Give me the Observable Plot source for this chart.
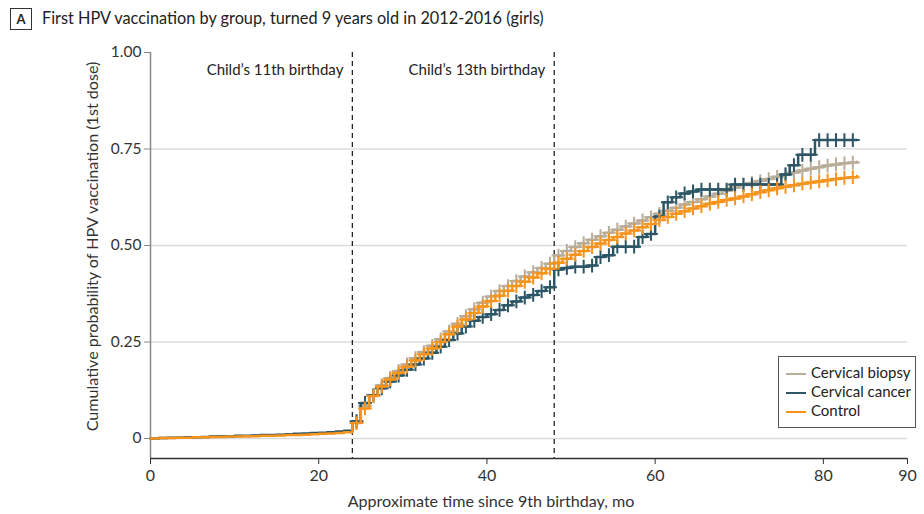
<!DOCTYPE html>
<html><head><meta charset="utf-8">
<script src="https://cdn.jsdelivr.net/npm/d3@7"></script>
<script src="https://cdn.jsdelivr.net/npm/@observablehq/plot@0.6"></script>
<style>
body{margin:0;background:#fff;width:924px;height:514px;overflow:hidden;position:relative;font-family:Lato,sans-serif;color:#222}
#title{height:36px;position:relative}
#title .box{position:absolute;left:10px;top:8px;width:20px;height:20px;border:1px solid #333;font-weight:bold;font-size:13px;text-align:center;line-height:20px}
#title .t{position:absolute;left:42px;top:8px;font-size:16.3px;line-height:20px}
#legend{position:absolute;left:778px;top:356px;width:138px;height:72px;border:1px solid #555;box-sizing:border-box;padding:6px 0 0 7px;font-size:15px;background:#fff}
#legend div{height:19px;line-height:18px;white-space:nowrap}
#legend span.sw{display:inline-block;width:20px;height:2px;vertical-align:middle;margin-right:5px}
svg{display:block}
</style></head><body>
<div id="title"><div class="box">A</div><div class="t">First HPV vaccination by group, turned 9 years old in 2012-2016 (girls)</div></div>
<div id="chart"></div>
<div id="legend"></div>
<script>
const groups = ["Cervical biopsy", "Cervical cancer", "Control"];
const colors = ["#b9ad99", "#2c5665", "#f7941d"];
const months = [0,1,2,3,4,5,6,7,8,9,10,11,12,13,14,15,16,17,18,19,20,21,22,23,24,25,26,27,28,29,30,31,32,33,34,35,36,37,38,39,40,41,42,43,44,45,46,47,48,49,50,51,52,53,54,55,56,57,58,59,60,61,62,63,64,65,66,67,68,69,70,71,72,73,74,75,76,77,78,79,80,81,82,83,84];
const biopsy = [0,0.001,0.001,0.002,0.002,0.003,0.003,0.004,0.005,0.005,0.006,0.006,0.007,0.008,0.008,0.009,0.010,0.010,0.011,0.012,0.013,0.014,0.016,0.018,
  0.042,0.085,0.112,0.138,0.157,0.175,0.192,0.208,0.224,0.240,0.257,0.277,0.297,0.317,0.335,0.352,0.368,0.382,0.395,0.408,0.420,0.431,0.442,0.453,
  0.474,0.486,0.496,0.506,0.515,0.524,0.533,0.541,0.549,0.557,0.565,0.573,0.582,0.590,0.598,0.606,0.613,0.620,0.627,0.634,0.642,0.650,0.657,0.662,
  0.667,0.672,0.678,0.684,0.689,0.694,0.699,0.703,0.707,0.710,0.713,0.715,0.717];
const cancer = [0,0.001,0.002,0.002,0.003,0.003,0.004,0.005,0.005,0.006,0.007,0.007,0.008,0.009,0.009,0.010,0.011,0.012,0.013,0.014,0.015,0.016,0.018,0.020,
  0.045,0.092,0.112,0.130,0.148,0.163,0.178,0.192,0.207,0.222,0.238,0.255,0.272,0.290,0.305,0.315,0.322,0.333,0.345,0.355,0.365,0.372,0.382,0.392,
  0.438,0.442,0.445,0.445,0.448,0.470,0.475,0.497,0.497,0.497,0.522,0.530,0.575,0.612,0.625,0.635,0.640,0.645,0.645,0.645,0.645,0.658,0.658,0.658,
  0.658,0.658,0.658,0.684,0.708,0.735,0.735,0.773,0.773,0.773,0.773,0.773,0.773];
const control = [0,0.001,0.001,0.002,0.002,0.003,0.003,0.004,0.004,0.005,0.005,0.006,0.006,0.007,0.007,0.008,0.009,0.009,0.010,0.011,0.012,0.013,0.014,0.016,
  0.040,0.078,0.110,0.135,0.153,0.170,0.186,0.202,0.218,0.233,0.250,0.270,0.290,0.308,0.325,0.342,0.356,0.370,0.383,0.395,0.406,0.417,0.428,0.440,
  0.455,0.466,0.476,0.486,0.496,0.505,0.514,0.522,0.531,0.539,0.547,0.556,0.566,0.574,0.582,0.589,0.596,0.602,0.608,0.613,0.618,0.622,0.627,0.633,
  0.638,0.643,0.648,0.652,0.656,0.660,0.663,0.666,0.669,0.672,0.675,0.677,0.680];
const seriesValues = [biopsy, cancer, control];
const censorStart = 24;
const yTicks = [0, 0.25, 0.5, 0.75, 1];
const xTicks = [0, 20, 40, 60, 80, 90];
const birthdays = [24, 48];
const birthdayLabels = ["Child\u2019s 11th birthday", "Child\u2019s 13th birthday"];
const yMin = -0.0518;

const rows = [];
seriesValues.forEach((vals, i) => months.forEach((m, j) => rows.push({group: groups[i], month: m, value: vals[j]})));
const censor = rows.filter(d => d.month >= censorStart && d.month < 84).map(d => ({...d, month: d.month + 0.5}));

const marks = [
  Plot.ruleY([0, 0.25, 0.5, 0.75], {stroke: "#dcdcdc", strokeWidth: 1.5}),
  Plot.ruleX([0], {stroke: "#888", strokeWidth: 1.5}),
  Plot.ruleY([yMin], {stroke: "#333", strokeWidth: 1.3}),
  Plot.ruleX(birthdays, {stroke: "#222", strokeWidth: 1.3, strokeDasharray: "5,4"}),
  Plot.text(birthdays, {x: d => d, y: 0.955, text: (d, i) => birthdayLabels[i], textAnchor: "end", dx: -9, fontSize: 15, fill: "#222"}),
  Plot.axisX({ticks: xTicks, tickSize: 6, tickPadding: 5, label: null, fontSize: 16, stroke: "#333", fill: "#333"}),
  Plot.axisY({ticks: yTicks, tickSize: 6, tickPadding: 3, label: null, fontSize: 15.5, tickFormat: d => d === 0 ? "0" : d.toFixed(2), stroke: "#888", fill: "#333"}),
  Plot.text(["Approximate time since 9th birthday, mo"], {frameAnchor: "bottom", dx: -38, dy: 48, text: d => d, fontSize: 16.1, fill: "#333"}),
  Plot.text(["Cumulative probability of HPV vaccination (1st dose)"], {frameAnchor: "left", textAnchor: "middle", dx: -58, dy: -9, rotate: -90, text: d => d, fontSize: 16.1, fill: "#333"})
];
groups.forEach((g, i) => {
  marks.push(Plot.line(rows.filter(d => d.group === g), {x: "month", y: "value", curve: "step-after", stroke: colors[i], strokeWidth: 2.5}));
  marks.push(Plot.dot(censor.filter(d => d.group === g), {x: "month", y: "value", symbol: "plus", r: 4.5, stroke: colors[i], strokeWidth: 2}));
});

const chart = Plot.plot({
  width: 924, height: 478,
  marginLeft: 150, marginRight: 17, marginTop: 16, marginBottom: 56,
  x: {domain: [0, 90]},
  y: {domain: [yMin, 1]},
  style: {fontFamily: "Lato, sans-serif", background: "#fff"},
  marks
});
document.getElementById("chart").appendChild(chart);

const leg = document.getElementById("legend");
groups.forEach((g, i) => {
  const row = document.createElement("div");
  row.innerHTML = `<span class="sw" style="background:${colors[i]}"></span>${g}`;
  leg.appendChild(row);
});
</script>
</body></html>
